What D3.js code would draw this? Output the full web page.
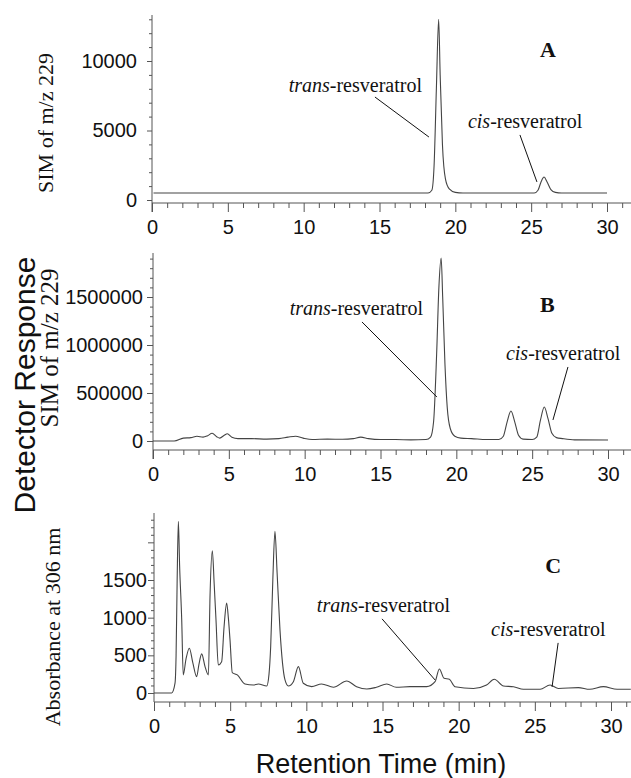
<!DOCTYPE html>
<html lang="en">
<head>
<meta charset="UTF-8">
<script src="https://cdn.jsdelivr.net/npm/d3@7"></script>
<title>Resveratrol chromatograms</title>
<style>
  html, body { margin: 0; padding: 0; background: #fff; }
  svg { display: block; }
  .tick text { font-family: "Liberation Sans", Arial, sans-serif; font-size: 20px; fill: #111; }
  .axis path, .axis line { stroke: #555; }
  .ser { font-family: "Liberation Serif", "Times New Roman", serif; fill: #111; }
  .sans { font-family: "Liberation Sans", Arial, sans-serif; fill: #111; }
</style>
</head>
<body>
<svg id="chart" width="631" height="778"></svg>
<script>
// [retention time (min), detector response]
let traceA = [
  [0.1, 500], [18.2, 500], [18.45, 700], [18.6, 2500], [18.75, 8000], [18.9, 13000],
  [19.0, 9000], [19.15, 4000], [19.35, 1500], [19.6, 800], [20.0, 550], [20.5, 500],
  [25.2, 500], [25.45, 700], [25.65, 1300], [25.85, 1650], [26.05, 1300], [26.3, 750],
  [26.6, 550], [27.0, 500], [30.0, 500]
];
let traceB = [
  [0, 0], [1.4, 0], [2.0, 30000], [2.5, 35000], [2.9, 50000], [3.3, 40000], [3.6, 55000],
  [3.9, 80000], [4.2, 45000], [4.4, 30000], [4.7, 60000], [4.9, 75000], [5.2, 40000],
  [5.6, 25000], [6.5, 25000], [7.5, 20000], [8.3, 25000], [8.9, 40000], [9.4, 50000],
  [9.9, 30000], [10.5, 15000], [11.5, 20000], [12.5, 18000], [13.2, 25000], [13.7, 40000],
  [14.2, 25000], [15, 15000], [16, 15000], [17, 12000], [18.0, 15000], [18.3, 40000],
  [18.5, 200000], [18.7, 900000], [18.85, 1600000], [19.0, 1906000], [19.1, 1500000],
  [19.25, 800000], [19.4, 350000], [19.6, 130000], [19.9, 50000], [20.3, 30000],
  [21, 25000], [22, 15000], [22.8, 15000], [23.1, 50000], [23.35, 200000], [23.6, 312000],
  [23.85, 200000], [24.1, 60000], [24.4, 20000], [25.0, 15000], [25.3, 40000],
  [25.55, 220000], [25.8, 354000], [26.05, 230000], [26.3, 80000], [26.6, 35000],
  [27.0, 25000], [27.8, 12000], [30, 10000]
];
let traceC = [
  [0, 0], [1.16, 0], [1.38, 130], [1.45, 500], [1.52, 1500], [1.6, 2280], [1.68, 1700],
  [1.82, 970], [1.92, 240], [2.1, 450], [2.32, 595], [2.55, 400], [2.8, 217], [2.95, 380],
  [3.13, 519], [3.35, 350], [3.57, 240], [3.68, 1303], [3.83, 1888], [3.95, 1450],
  [4.07, 970], [4.22, 372], [4.44, 416], [4.6, 880], [4.77, 1193], [4.88, 1000],
  [4.99, 705], [5.14, 270], [5.47, 240], [5.97, 120], [6.52, 106], [6.85, 120], [7.4, 93],
  [7.55, 250], [7.66, 616], [7.8, 1500], [7.94, 2145], [8.08, 1600], [8.27, 838],
  [8.6, 173], [8.82, 93], [9.15, 150], [9.48, 350], [9.8, 129], [10.35, 84], [11.0, 120],
  [11.78, 76], [12.65, 160], [13.3, 84], [13.97, 53], [14.6, 76], [15.28, 120], [15.9, 76],
  [16.8, 84], [17.9, 84], [18.45, 150], [18.73, 319], [19.04, 195], [19.39, 182],
  [19.76, 84], [20.97, 60], [21.83, 106], [22.34, 182], [22.94, 93], [23.6, 84],
  [24.25, 49], [25.35, 49], [26.0, 106], [26.55, 60], [27.86, 72], [28.6, 49], [29.5, 84],
  [30.4, 49], [31.3, 50]
];

let ticksX = [0, 5, 10, 15, 20, 25, 30];
let ticksA = [0, 5000, 10000];
let ticksB = [0, 500000, 1000000, 1500000];
let ticksC = [0, 500, 1000, 1500];
let ticksCUnlabelled = [2000];

// annotation anchors in data units [time, response]
let notesA = [
  { it: "trans", rest: "-resveratrol", at: [17.8, 7770], anchor: "end", from: [14.7, 7410], to: [18.26, 4530] },
  { it: "cis", rest: "-resveratrol", at: [20.83, 5180], anchor: "start", from: [24.26, 4680], to: [25.38, 1300] }
];
let notesB = [
  { it: "trans", rest: "-resveratrol", at: [17.8, 1312000], anchor: "end", from: [13.78, 1240000], to: [18.72, 458000] },
  { it: "cis", rest: "-resveratrol", at: [23.27, 844000], anchor: "start", from: [27.36, 771000], to: [26.37, 219000] }
];
let notesC = [
  { it: "trans", rest: "-resveratrol", at: [19.44, 1077], anchor: "end", from: [14.97, 984], to: [18.45, 173] },
  { it: "cis", rest: "-resveratrol", at: [22.13, 758], anchor: "start", from: [26.53, 665], to: [26.13, 80] }
];

let svg = d3.select('#chart');

let panels = [
  { letter: 'A', letterAt: [26.1, 10290], trace: traceA, ticks: ticksA, minorStep: 1000, extra: [],
    x0: 152, x30: 607, yTop: 15, axisY: 203, y0: 200, yRefV: 10000, yRefPx: 61,
    tickSize: 5, tickPad: 10, notes: notesA,
    ylabel: { text: 'SIM of m/z 229', x: 53, y: 123, size: 22 } },
  { letter: 'B', letterAt: [26.0, 1344000], trace: traceB, ticks: ticksB, minorStep: 100000, extra: [],
    x0: 153, x30: 608, yTop: 253, axisY: 450, y0: 441, yRefV: 1500000, yRefPx: 297,
    tickSize: 6, tickPad: 4, notes: notesB,
    ylabel: { text: 'SIM of m/z 229', x: 58, y: 348, size: 25 } },
  { letter: 'C', letterAt: [26.2, 1596], trace: traceC, ticks: ticksC, minorStep: 100, extra: ticksCUnlabelled,
    x0: 154, x30: 611, yTop: 513, axisY: 702, y0: 693, yRefV: 1500, yRefPx: 580,
    tickSize: 6, tickPad: 1, notes: notesC,
    ylabel: { text: 'Absorbance at 306 nm', x: 60, y: 627, size: 22 } }
];

panels.forEach(p => {
  let x = d3.scaleLinear().domain([0, 30]).range([p.x0, p.x30]);
  x.domain([0, x.invert(631)]).range([p.x0, 631]);
  let y = d3.scaleLinear().domain([0, p.yRefV]).range([p.y0, p.yRefPx]);
  y.domain([y.invert(p.axisY), y.invert(p.yTop)]).range([p.axisY, p.yTop]);

  let g = svg.append('g');

  // x axis: major + minor ticks
  let xMinor = d3.range(0, 32).filter(d => d % 5 !== 0 && x(d) <= 631);
  g.append('g').attr('class', 'axis')
    .attr('transform', `translate(0,${p.axisY})`)
    .call(d3.axisBottom(x).tickValues(xMinor).tickSize(5).tickFormat(''))
    .call(a => a.select('.domain').remove());
  g.append('g').attr('class', 'axis')
    .attr('transform', `translate(0,${p.axisY})`)
    .call(d3.axisBottom(x).tickValues(ticksX).tickSize(9).tickPadding(8).tickSizeOuter(0))
    .call(a => a.select('.domain').remove());
  g.append('line').attr('stroke', '#555')
    .attr('x1', p.x0).attr('x2', 631).attr('y1', p.axisY).attr('y2', p.axisY);

  // y axis
  let yMax = y.domain()[1];
  let yMinor = d3.range(0, yMax, p.minorStep).filter(d => !p.ticks.includes(d) && !p.extra.includes(d));
  g.append('g').attr('class', 'axis')
    .attr('transform', `translate(${p.x0},0)`)
    .call(d3.axisLeft(y).tickValues(yMinor).tickSize(3).tickFormat(''))
    .call(a => a.select('.domain').remove());
  g.append('g').attr('class', 'axis')
    .attr('transform', `translate(${p.x0},0)`)
    .call(d3.axisLeft(y).tickValues(p.ticks.concat(p.extra)).tickSize(p.tickSize).tickPadding(p.tickPad)
      .tickFormat(d => p.extra.includes(d) ? '' : d3.format('d')(d)))
    .call(a => a.select('.domain').remove());
  g.append('line').attr('stroke', '#555')
    .attr('x1', p.x0).attr('x2', p.x0).attr('y1', p.yTop).attr('y2', p.axisY + (p.letter === 'C' ? 0 : 9));

  // trace
  let line = d3.line().x(d => x(d[0])).y(d => y(d[1])).curve(d3.curveMonotoneX);
  g.append('path').datum(p.trace)
    .attr('d', line).attr('fill', 'none').attr('stroke', '#444').attr('stroke-width', 1.1);

  // annotations
  p.notes.forEach(n => {
    let t = g.append('text').attr('class', 'ser')
      .attr('x', x(n.at[0])).attr('y', y(n.at[1]))
      .attr('text-anchor', n.anchor).attr('font-size', 20);
    t.append('tspan').attr('font-style', 'italic').text(n.it);
    t.append('tspan').text(n.rest);
    g.append('line').attr('stroke', '#111').attr('stroke-width', 1)
      .attr('x1', x(n.from[0])).attr('y1', y(n.from[1]))
      .attr('x2', x(n.to[0])).attr('y2', y(n.to[1]));
  });

  g.append('text').attr('class', 'ser')
    .attr('x', x(p.letterAt[0])).attr('y', y(p.letterAt[1]))
    .attr('text-anchor', 'middle').attr('font-weight', 'bold').attr('font-size', 22)
    .text(p.letter);

  g.append('text').attr('class', 'ser')
    .attr('transform', `translate(${p.ylabel.x},${p.ylabel.y}) rotate(-90)`)
    .attr('text-anchor', 'middle').attr('font-size', p.ylabel.size)
    .text(p.ylabel.text);
});

svg.append('text').attr('class', 'sans')
  .attr('transform', 'translate(35,385) rotate(-90)')
  .attr('text-anchor', 'middle').attr('font-size', 30)
  .text('Detector Response');

svg.append('text').attr('class', 'sans')
  .attr('x', 381).attr('y', 773)
  .attr('text-anchor', 'middle').attr('font-size', 27)
  .text('Retention Time (min)');
</script>
</body>
</html>
